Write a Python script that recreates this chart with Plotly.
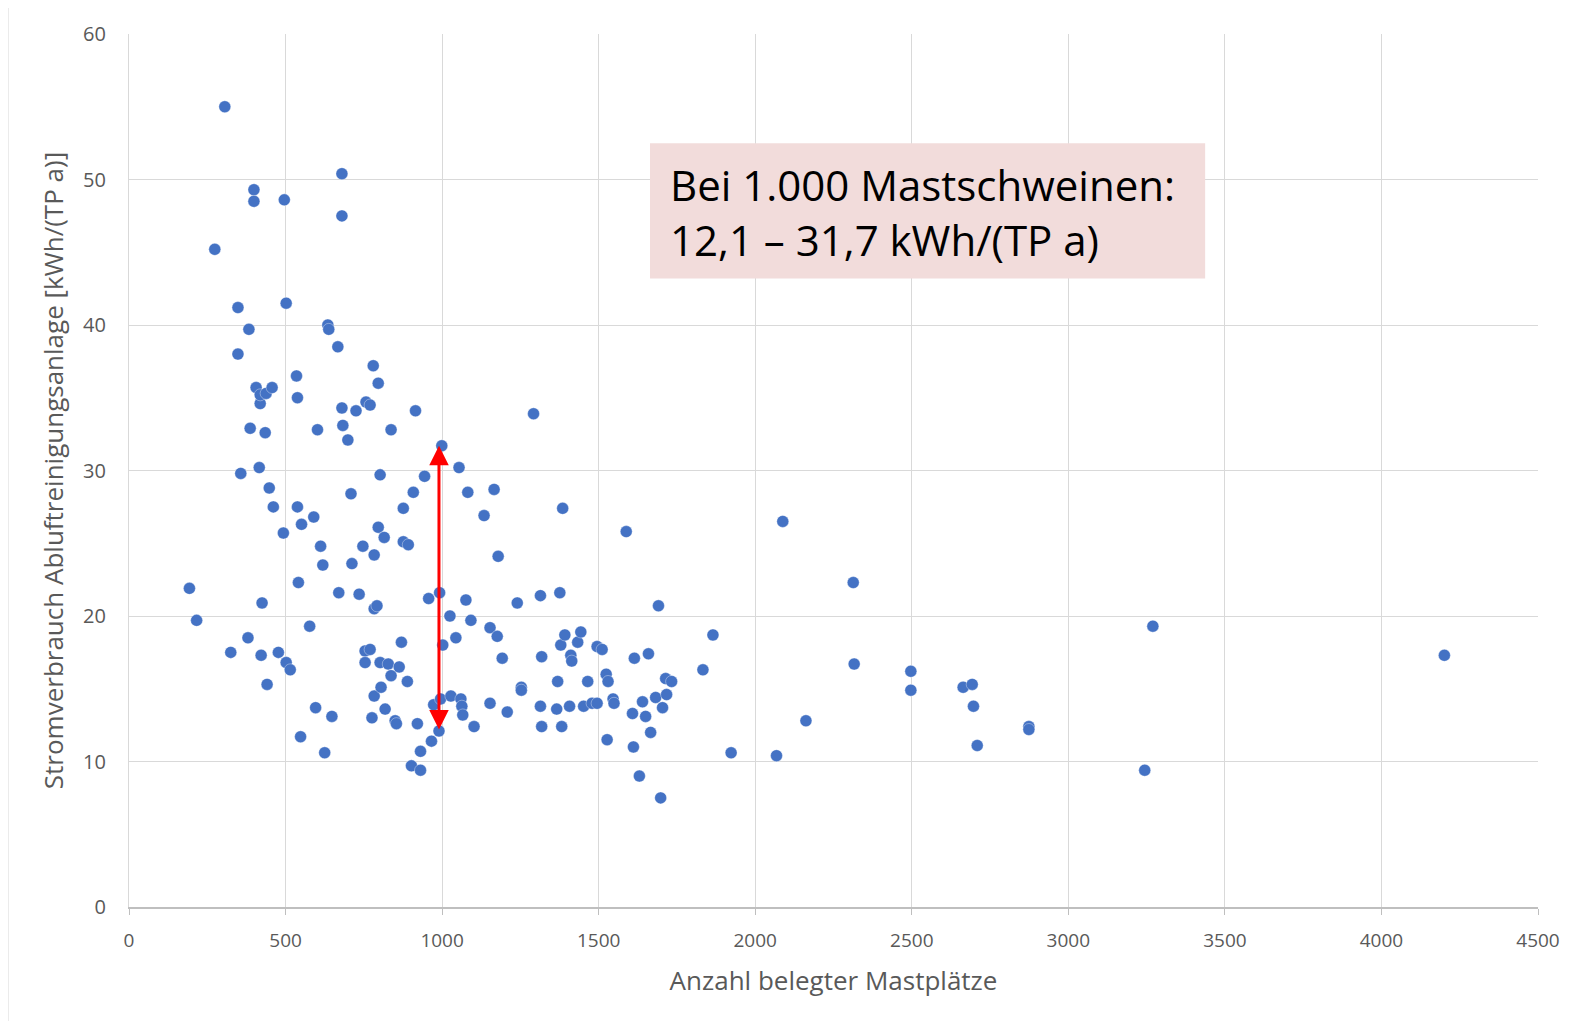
import plotly.graph_objects as go

# Anzahl belegter Mastplätze (x) and Stromverbrauch Abluftreinigungsanlage [kWh/(TP a)] (y)
mastplaetze = [
    306, 193, 216, 274, 325, 348, 348, 357, 380, 383, 387, 399, 399, 406, 416, 419, 419, 422, 425, 435,
    438, 441, 448, 457, 461, 477, 493, 496, 502, 502, 515, 535, 538, 538, 541, 548, 551, 577, 590, 596,
    602, 612, 619, 625, 635, 638, 648, 670, 667, 680, 680, 680, 683, 699, 709, 712, 725, 735, 747, 754,
    754, 757, 770, 770, 776, 780, 783, 783, 783, 792, 796, 796, 802, 802, 805, 815, 818, 828, 837, 837,
    850, 854, 863, 870, 876, 876, 889, 892, 902, 908, 915, 921, 931, 931, 944, 957, 966, 973, 990, 992,
    999, 1002, 995, 1025, 1028, 1044, 1054, 1060, 1063, 1066, 1076, 1082, 1092, 1102, 1134, 1153, 1153, 1166, 1176, 1179,
    1192, 1208, 1240, 1253, 1253, 1292, 1314, 1318, 1314, 1318, 1366, 1369, 1376, 1379, 1382, 1385, 1392, 1407, 1411, 1414,
    1433, 1443, 1452, 1465, 1479, 1495, 1495, 1511, 1524, 1530, 1527, 1546, 1549, 1588, 1608, 1611, 1614, 1630, 1640, 1650,
    1659, 1666, 1682, 1691, 1698, 1704, 1714, 1717, 1733, 1833, 1865, 1923, 2068, 2088, 2162, 2313, 2316, 2497, 2497, 2664,
    2693, 2697, 2709, 2874, 2874, 3244, 3270, 4201,
]
stromverbrauch = [
    55.0, 21.9, 19.7, 45.2, 17.5, 41.2, 38.0, 29.8, 18.5, 39.7, 32.9, 49.3, 48.5, 35.7, 30.2, 34.6, 35.2, 17.3, 20.9, 32.6,
    35.3, 15.3, 28.8, 35.7, 27.5, 17.5, 25.7, 48.6, 41.5, 16.8, 16.3, 36.5, 35.0, 27.5, 22.3, 11.7, 26.3, 19.3, 26.8, 13.7,
    32.8, 24.8, 23.5, 10.6, 40.0, 39.7, 13.1, 21.6, 38.5, 50.4, 47.5, 34.3, 33.1, 32.1, 28.4, 23.6, 34.1, 21.5, 24.8, 17.6,
    16.8, 34.7, 34.5, 17.7, 13.0, 37.2, 24.2, 20.5, 14.5, 20.7, 36.0, 26.1, 29.7, 16.8, 15.1, 25.4, 13.6, 16.7, 32.8, 15.9,
    12.8, 12.6, 16.5, 18.2, 27.4, 25.1, 15.5, 24.9, 9.7, 28.5, 34.1, 12.6, 10.7, 9.4, 29.6, 21.2, 11.4, 13.9, 12.1, 21.6,
    31.7, 18.0, 14.3, 20.0, 14.5, 18.5, 30.2, 14.3, 13.8, 13.2, 21.1, 28.5, 19.7, 12.4, 26.9, 19.2, 14.0, 28.7, 18.6, 24.1,
    17.1, 13.4, 20.9, 15.1, 14.9, 33.9, 21.4, 17.2, 13.8, 12.4, 13.6, 15.5, 21.6, 18.0, 12.4, 27.4, 18.7, 13.8, 17.3, 16.9,
    18.2, 18.9, 13.8, 15.5, 14.0, 14.0, 17.9, 17.7, 16.0, 15.5, 11.5, 14.3, 14.0, 25.8, 13.3, 11.0, 17.1, 9.0, 14.1, 13.1,
    17.4, 12.0, 14.4, 20.7, 7.5, 13.7, 15.7, 14.6, 15.5, 16.3, 18.7, 10.6, 10.4, 26.5, 12.8, 22.3, 16.7, 16.2, 14.9, 15.1,
    15.3, 13.8, 11.1, 12.4, 12.2, 9.4, 19.3, 17.3,
]

x_ticks = [0, 500, 1000, 1500, 2000, 2500, 3000, 3500, 4000, 4500]
y_ticks = [0, 10, 20, 30, 40, 50, 60]

bereich_x = 990
bereich_min = 12.1
bereich_max = 31.7
box_text = "Bei 1.000 Mastschweinen:<br>12,1 – 31,7 kWh/(TP a)"

GRID = "#d9d9d9"
TXT = "#595959"
FONT = "Open Sans"

fig = go.Figure()
fig.add_trace(go.Scatter(
    x=mastplaetze, y=stromverbrauch, mode="markers",
    marker=dict(color="#4472c4", size=12, line=dict(color="rgba(255,255,255,0.6)", width=0.6)),
    showlegend=False, hoverinfo="x+y",
))

# annotation box
fig.add_shape(type="rect", xref="x", yref="y", x0=1664, x1=3437, y0=43.2, y1=52.5,
              fillcolor="#f2dcdb", line=dict(width=0), layer="above")
fig.add_annotation(x=1722, y=47.75, xref="x", yref="y", text=box_text, showarrow=False,
                   xanchor="left", yanchor="middle", align="left",
                   font=dict(family=FONT, size=42, color="#000000"))

# red double arrow
fig.add_annotation(x=bereich_x, y=bereich_max, ax=bereich_x, ay=bereich_min,
                   xref="x", yref="y", axref="x", ayref="y", text="", showarrow=True,
                   arrowhead=2, startarrowhead=2, arrowside="end+start",
                   arrowsize=1.3, startarrowsize=1.3, arrowwidth=3, arrowcolor="#ff0000",
                   standoff=0, startstandoff=0)

# outer frame of picture
fig.add_shape(type="rect", xref="paper", yref="paper", x0=-0.0859, x1=1.2, y0=-0.3, y1=1.0334,
              line=dict(color="#d4d4d4", width=1), fillcolor="rgba(0,0,0,0)", layer="below")

fig.update_layout(
    width=1573, height=1013,
    margin=dict(l=121, r=43, t=24, b=114),
    paper_bgcolor="white", plot_bgcolor="white",
    font=dict(family=FONT, color=TXT),
    xaxis=dict(
        range=[0, 4500], tickvals=x_ticks, ticktext=[str(v) for v in x_ticks],
        showgrid=True, gridcolor=GRID, gridwidth=1.3,
        showline=True, linecolor="#bfbfbf", linewidth=2,
        ticks="outside", ticklen=6, tickcolor="#bfbfbf", tickwidth=1,
        tickfont=dict(family=FONT, size=19, color=TXT),
        zeroline=False, ticklabelstandoff=9,
        title=dict(text="Anzahl belegter Mastplätze", font=dict(family=FONT, size=26, color=TXT), standoff=20),
    ),
    yaxis=dict(
        range=[0, 60], tickvals=y_ticks, ticktext=[str(v) for v in y_ticks],
        showgrid=True, gridcolor=GRID, gridwidth=1.3,
        showline=True, linecolor="#d9d9d9", linewidth=1.3,
        ticks="", zeroline=False, ticklabelstandoff=18,
        tickfont=dict(family=FONT, size=20, color=TXT),
        title=dict(text="Stromverbrauch Abluftreinigungsanlage [kWh/(TP a)]",
                   font=dict(family=FONT, size=26, color=TXT), standoff=11),
    ),
)

fig.write_html("out.html")
